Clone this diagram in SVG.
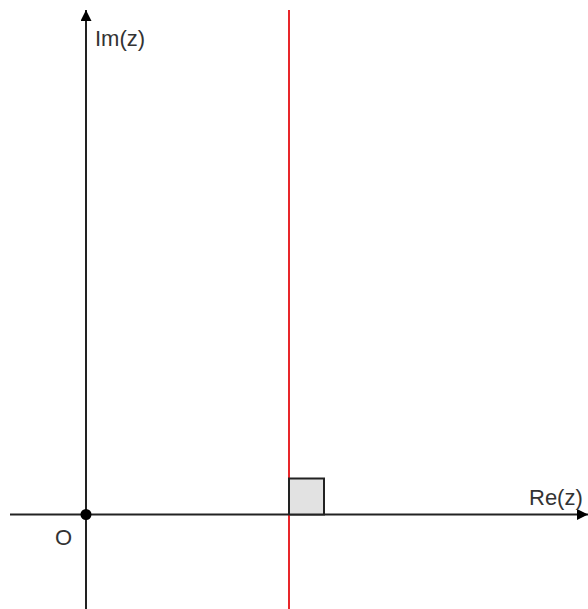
<svg xmlns="http://www.w3.org/2000/svg" width="588" height="609" viewBox="0 0 588 609">
<style>
.axis{stroke:#222;stroke-width:2;fill:none}
.lbl{font-family:"Liberation Sans",Arial,sans-serif;font-size:22px;fill:#333}
</style>
<defs>
<marker id="ah" viewBox="0 0 10 10" refX="10" refY="5" markerWidth="7" markerHeight="5.5" markerUnits="strokeWidth" orient="auto">
<path d="M0,0 L10,5 L0,10 z" fill="#000"/>
</marker>
</defs>
<rect width="588" height="609" fill="#fff"/>
<g id="connectors">
<line class="axis" x1="10" y1="514.5" x2="588" y2="514.5" marker-end="url(#ah)"/>
<line class="axis" x1="86" y1="609" x2="86" y2="10" marker-end="url(#ah)"/>
<line x1="289" y1="10" x2="289" y2="609" stroke="#e8262a" stroke-width="2"/>
</g>
<g id="rightangle">
<rect x="289" y="478.5" width="35" height="36" fill="#e2e2e2" stroke="#222" stroke-width="2"/>
</g>
<g id="origin">
<circle cx="86" cy="514.5" r="5.5" fill="#000"/>
<text class="lbl" x="55" y="545">O</text>
</g>
<g id="im-label"><text class="lbl" x="95" y="46">Im(z)</text></g>
<g id="re-label"><text class="lbl" x="529" y="505">Re(z)</text></g>
</svg>
